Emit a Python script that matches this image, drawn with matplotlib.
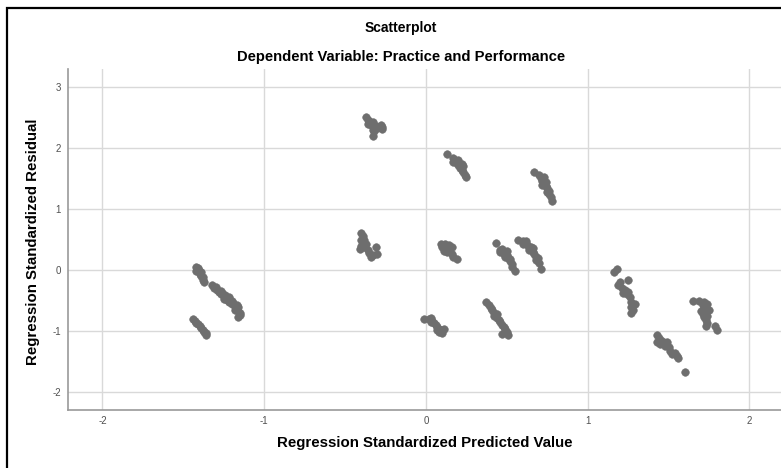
import numpy as np
import matplotlib
matplotlib.use("Agg")
from matplotlib import pyplot as plt
from matplotlib.patches import Rectangle

# Standardized predicted values (x) and standardized residuals (y), grouped by streak
grp_a_x = [-1.42, -1.41, -1.42, -1.40, -1.40, -1.39, -1.38, -1.38, -1.37, -1.39, -1.41]
grp_a_y = [0.05, 0.02, -0.01, -0.03, -0.07, -0.10, -0.12, -0.16, -0.19, -0.04, 0.03]

grp_b_x = [-1.32, -1.31, -1.30, -1.29, -1.28, -1.27, -1.27, -1.26, -1.25, -1.24, -1.24, -1.23, -1.22, -1.21,
           -1.20, -1.20, -1.19, -1.18, -1.17, -1.17, -1.16, -1.16, -1.15, -1.15, -1.16, -1.18, -1.22, -1.25]
grp_b_y = [-0.25, -0.30, -0.28, -0.33, -0.36, -0.34, -0.40, -0.38, -0.43, -0.41, -0.46, -0.49, -0.45, -0.52,
           -0.50, -0.56, -0.54, -0.59, -0.57, -0.63, -0.61, -0.67, -0.70, -0.74, -0.77, -0.66, -0.53, -0.47]

grp_c_x = [-1.44, -1.43, -1.42, -1.41, -1.40, -1.39, -1.38, -1.37, -1.36, -1.36]
grp_c_y = [-0.81, -0.84, -0.87, -0.89, -0.92, -0.95, -0.98, -1.01, -1.04, -1.07]

grp_d_x = [-0.37, -0.36, -0.35, -0.36, -0.34, -0.33, -0.31, -0.30, -0.28, -0.27, -0.27, -0.33, -0.33, -0.32]
grp_d_y = [2.50, 2.46, 2.44, 2.40, 2.38, 2.42, 2.36, 2.33, 2.38, 2.31, 2.35, 2.30, 2.19, 2.28]

grp_e_x = [-0.40, -0.39, -0.40, -0.39, -0.40, -0.38, -0.37, -0.36, -0.35, -0.33, -0.31, -0.30, -0.34, -0.38, -0.41]
grp_e_y = [0.60, 0.55, 0.50, 0.45, 0.40, 0.37, 0.43, 0.33, 0.28, 0.25, 0.37, 0.27, 0.22, 0.50, 0.35]

grp_f_x = [0.13, 0.17, 0.18, 0.19, 0.20, 0.21, 0.22, 0.23, 0.24, 0.25, 0.20, 0.22, 0.23, 0.17]
grp_f_y = [1.90, 1.84, 1.80, 1.76, 1.72, 1.68, 1.64, 1.60, 1.56, 1.53, 1.80, 1.74, 1.70, 1.77]

grp_g_x = [0.67, 0.70, 0.71, 0.72, 0.73, 0.74, 0.75, 0.75, 0.76, 0.78, 0.72, 0.74, 0.76, 0.73, 0.77]
grp_g_y = [1.60, 1.55, 1.50, 1.46, 1.42, 1.38, 1.34, 1.28, 1.24, 1.13, 1.40, 1.45, 1.30, 1.52, 1.20]

grp_h_x = [0.09, 0.12, 0.14, 0.10, 0.12, 0.14, 0.13, 0.15, 0.16, 0.17, 0.19, 0.16, 0.11]
grp_h_y = [0.43, 0.42, 0.41, 0.38, 0.35, 0.33, 0.29, 0.30, 0.26, 0.22, 0.18, 0.38, 0.31]

grp_i_x = [0.43, 0.46, 0.47, 0.46, 0.48, 0.50, 0.51, 0.52, 0.53, 0.53, 0.55, 0.50, 0.49, 0.52, 0.48]
grp_i_y = [0.44, 0.33, 0.35, 0.30, 0.27, 0.25, 0.20, 0.15, 0.10, 0.05, -0.02, 0.31, 0.22, 0.18, 0.29]

grp_j_x = [0.57, 0.60, 0.62, 0.60, 0.63, 0.65, 0.64, 0.66, 0.67, 0.68, 0.68, 0.70, 0.71, 0.62, 0.66, 0.69]
grp_j_y = [0.50, 0.48, 0.45, 0.42, 0.40, 0.38, 0.33, 0.30, 0.26, 0.22, 0.17, 0.12, 0.01, 0.47, 0.36, 0.20]

grp_k_x = [-0.01, 0.02, 0.03, 0.04, 0.05, 0.06, 0.07, 0.08, 0.09, 0.10, 0.07, 0.08, 0.03, 0.11]
grp_k_y = [-0.81, -0.80, -0.78, -0.83, -0.87, -0.90, -0.93, -0.96, -0.99, -1.03, -0.99, -1.02, -0.85, -0.97]

grp_l_x = [0.37, 0.39, 0.40, 0.41, 0.42, 0.42, 0.44, 0.45, 0.46, 0.47, 0.48, 0.49, 0.50, 0.51, 0.47, 0.44]
grp_l_y = [-0.53, -0.57, -0.62, -0.66, -0.70, -0.75, -0.78, -0.82, -0.86, -0.90, -0.94, -0.97, -1.01, -1.06,
           -1.05, -0.72]

grp_m_x = [1.16, 1.18, 1.20, 1.19, 1.25, 1.21, 1.23, 1.22, 1.24, 1.25, 1.26, 1.27, 1.29, 1.27, 1.28, 1.27]
grp_m_y = [-0.03, 0.01, -0.19, -0.24, -0.16, -0.29, -0.33, -0.37, -0.40, -0.36, -0.44, -0.52, -0.55, -0.60,
           -0.66, -0.71]

grp_n_x = [1.43, 1.44, 1.43, 1.46, 1.47, 1.49, 1.48, 1.50, 1.51, 1.52, 1.54, 1.55, 1.56, 1.60, 1.45]
grp_n_y = [-1.07, -1.12, -1.18, -1.16, -1.20, -1.18, -1.24, -1.27, -1.32, -1.38, -1.36, -1.41, -1.45, -1.67,
           -1.22]

grp_o_x = [1.65, 1.69, 1.72, 1.74, 1.71, 1.72, 1.70, 1.73, 1.75, 1.71, 1.72, 1.73, 1.74, 1.73, 1.79, 1.80, 1.74]
grp_o_y = [-0.50, -0.51, -0.52, -0.55, -0.58, -0.63, -0.67, -0.68, -0.66, -0.72, -0.77, -0.82, -0.87, -0.92,
           -0.92, -0.98, -0.75]

x_ticks = [-2, -1, 0, 1, 2]
y_ticks = [-2, -1, 0, 1, 2, 3]

pred = np.concatenate([grp_a_x, grp_b_x, grp_c_x, grp_d_x, grp_e_x, grp_f_x, grp_g_x, grp_h_x,
                       grp_i_x, grp_j_x, grp_k_x, grp_l_x, grp_m_x, grp_n_x, grp_o_x])
resid = np.concatenate([grp_a_y, grp_b_y, grp_c_y, grp_d_y, grp_e_y, grp_f_y, grp_g_y, grp_h_y,
                        grp_i_y, grp_j_y, grp_k_y, grp_l_y, grp_m_y, grp_n_y, grp_o_y])

plt.rcParams['font.family'] = ['Liberation Sans', 'DejaVu Sans']
plt.rcParams['axes.unicode_minus'] = False

W, H = 781, 468
fig = plt.figure(figsize=(W / 100, H / 100), dpi=100)

# outer chart frame (left and top edges visible)
fig.patches.append(Rectangle((7 / W, -0.1), 1.2, 1 - 8 / H + 0.1, transform=fig.transFigure,
                             fill=False, edgecolor='black', linewidth=1.6))

ax = fig.add_axes([68 / W, 1 - 410 / H, (W - 68) / W, (410 - 69) / H])
ax.scatter(pred, resid, s=30, color='#6e6e6e', edgecolors='#6e6e6e', linewidths=0.4, zorder=3)

ax.set_xlim(-2.213, 2.195)
ax.set_ylim(-2.295, 3.295)
ax.set_xticks(x_ticks)
ax.set_yticks(y_ticks)
ax.grid(True, color='#d9d9d9', linewidth=1.0)
ax.set_axisbelow(True)
ax.tick_params(axis='x', length=0, labelsize=7, colors='#505050', pad=4)
ax.tick_params(axis='y', length=0, labelsize=7, colors='#505050', pad=5)
for side in ['top', 'right']:
    ax.spines[side].set_visible(False)
for side in ['left', 'bottom']:
    ax.spines[side].set_color('#999999')
    ax.spines[side].set_linewidth(1.2)

fig.text(401 / W, 1 - 28 / H, 'Scatterplot', ha='center', va='center', fontsize=10, fontweight='bold')
fig.text(401 / W, 1 - 57 / H, 'Dependent Variable: Practice and Performance', ha='center', va='center',
         fontsize=10.6, fontweight='bold')
fig.text(33 / W, 1 - 242 / H, 'Regression Standardized Residual', ha='center', va='center',
         rotation=90, fontsize=10.8, fontweight='bold')
fig.text(425 / W, 1 - 443 / H, 'Regression Standardized Predicted Value', ha='center', va='center',
         fontsize=10.8, fontweight='bold')

fig.savefig('out.png', dpi=100)
